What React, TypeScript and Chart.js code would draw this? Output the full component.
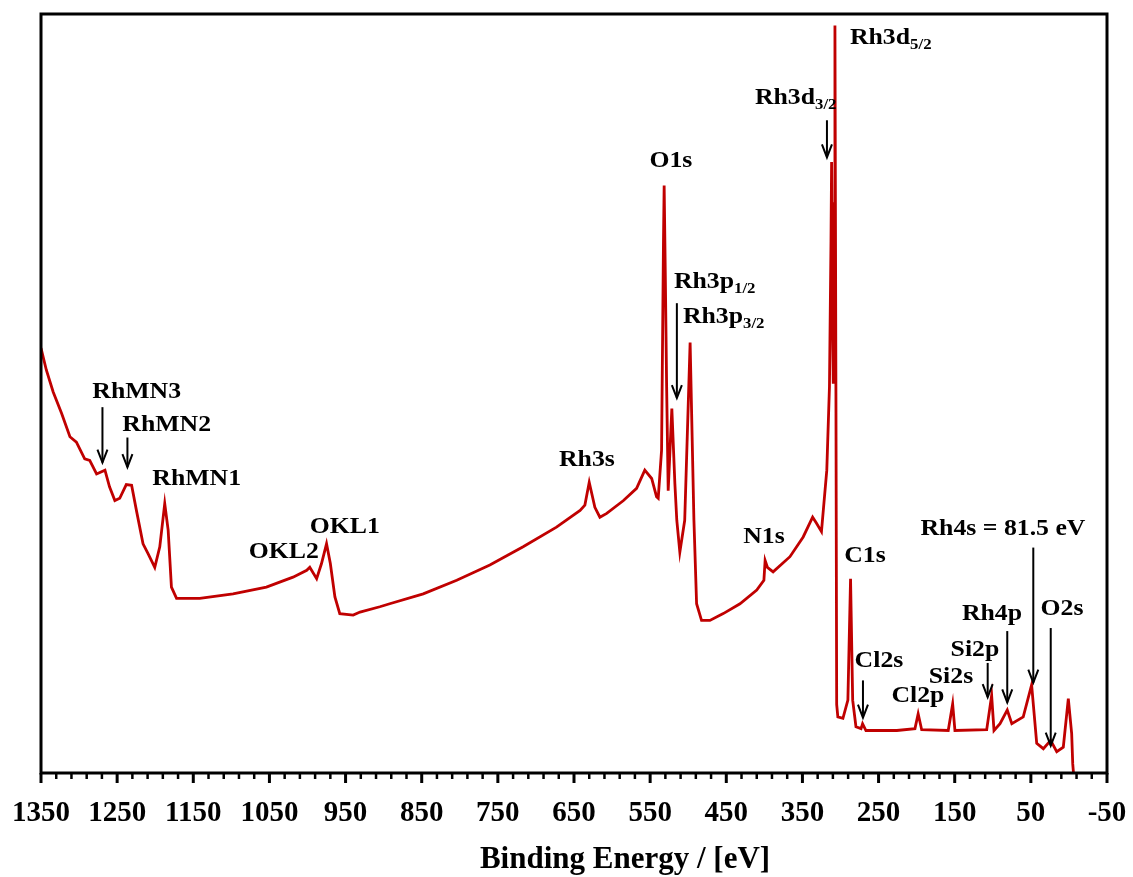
import React, { useEffect, useRef } from "react";
import { Chart, registerables } from "chart.js";

Chart.register(...registerables);

// Binding energy (eV) and intensity (arbitrary units, 0-100)
const bindingEnergy = [
  1350, 1343, 1334, 1323, 1312, 1303.5, 1292.6, 1286, 1277, 1266, 1260, 1253, 1246.6, 1238, 1231,
  1224.7, 1216, 1209.4, 1200.6, 1194, 1187.5, 1183, 1178.7, 1172, 1141.5, 1097.8, 1054, 1019, 1001,
  997, 988, 981.6, 975, 970, 964, 957.6, 940, 931, 905, 892, 848, 804, 760.5, 716.8, 673, 642,
  635.7, 630, 622.6, 616, 607, 585, 567.8, 557, 548, 541.6, 539.4, 535, 532.5, 531.6, 530, 528.4,
  526.3, 521.5, 517.5, 515, 511, 504.6, 497.5, 492.5, 489, 482.5, 471.5, 454, 432, 410, 400.6,
  399, 396, 388.5, 366.4, 349, 336.6, 331.5, 325, 318, 314.5, 312.5, 311.7, 310.5, 309.5, 308.5,
  307.3, 306, 305, 303.5, 296.8, 290.3, 286.8, 284, 279.7, 273, 271, 266.6, 226, 202.2, 198,
  193.4, 158.5, 152.7, 149.7, 108, 101.5, 98.4, 90.5, 81, 75, 60, 49, 42.3, 33.6, 24, 16, 7.4,
  0.8, -3.6, -5, -6,
];
const intensity = [
  56.0, 53.1, 50.2, 47.4, 44.3, 43.6, 41.4, 41.2, 39.4, 39.9, 37.7, 35.9, 36.2, 38.0, 37.9,
  34.6, 30.2, 28.9, 27.1, 29.8, 35.5, 32.0, 24.5, 23.0, 23.0, 23.6, 24.5, 25.8, 26.7,
  27.1, 25.6, 27.6, 30.2, 27.6, 23.2, 21.0, 20.8, 21.2, 21.9, 22.3, 23.6, 25.4, 27.4, 29.8, 32.4, 34.6,
  35.3, 38.3, 35.0, 33.7, 34.2, 35.9, 37.5, 39.9, 38.8, 36.4, 36.2, 42.5, 70, 77.4, 65, 51.3,
  37.2, 48.0, 38.1, 33.3, 29.1, 33.3, 56.7, 33.3, 22.3, 20.1, 20.1, 21.0, 22.3, 24.1, 25.4,
  28.0, 27.1, 26.5, 28.5, 31.1, 33.7, 32.9, 31.8, 39.9, 50.9, 70, 80.5, 60, 51.3, 75,
  98.5, 50, 9, 7.4, 7.2, 9.6, 25.6, 9.6, 6.1, 5.85, 6.5, 5.6, 5.6, 5.85, 7.8,
  5.7, 5.6, 9.1, 5.6, 5.7, 10.2, 5.6, 6.5, 8.3, 6.5, 7.4, 11.6, 3.9, 3.2, 4.3, 2.8, 3.4,
  9.8, 5.2, 1.2, 0,
];

const xTickValues = [1350, 1250, 1150, 1050, 950, 850, 750, 650, 550, 450, 350, 250, 150, 50, -50];
const minorTickStep = 20;
const xMin = -50;
const xMax = 1350;
const xTitle = "Binding Energy / [eV]";
const xTitleCentre = 583; // binding energy under which the axis title is centred

// Peak labels: [text, subscript, binding energy, intensity, align]
const peakLabels: [string, string, number, number, string][] = [
  ["RhMN3", "", 1224.3, 49.4, "center"],
  ["RhMN2", "", 1184.9, 45.0, "center"],
  ["RhMN1", "", 1145.5, 38.0, "center"],
  ["OKL2", "", 1031.2, 28.3, "center"],
  ["OKL1", "", 951.0, 31.6, "center"],
  ["Rh3s", "", 633.1, 40.4, "center"],
  ["O1s", "", 522.8, 79.8, "center"],
  ["Rh3p", "1/2", 518.8, 63.9, "left"],
  ["Rh3p", "3/2", 507.0, 59.3, "left"],
  ["Rh3d", "3/2", 412.4, 88.1, "left"],
  ["Rh3d", "5/2", 287.6, 96.1, "left"],
  ["N1s", "", 400.6, 30.3, "center"],
  ["C1s", "", 267.9, 27.8, "center"],
  ["Cl2s", "", 249.5, 14.0, "center"],
  ["Cl2p", "", 198.3, 9.3, "center"],
  ["Si2s", "", 154.9, 11.8, "center"],
  ["Si2p", "", 123.4, 15.4, "center"],
  ["Rh4p", "", 101.1, 20.1, "center"],
  ["Rh4s = 81.5 eV", "", 86.6, 31.3, "center"],
  ["O2s", "", 9.1, 20.8, "center"],
];

// Arrows: [binding energy, top intensity, tip intensity]
const peakArrows: [number, number, number][] = [
  [1269.3, 48.2, 40.9],
  [1236.5, 44.2, 40.3],
  [514.9, 61.9, 49.4],
  [317.8, 86.0, 81.1],
  [270.5, 12.2, 7.3],
  [106.7, 14.5, 10.0],
  [81.0, 18.7, 9.3],
  [46.8, 29.7, 11.9],
  [23.9, 19.1, 3.6],
];

const SERIF = "'Liberation Serif', 'Times New Roman', serif";
const LABEL_SIZE = 23;
const LABEL_STRETCH = 1.12;

const framePlugin = {
  id: "frameAndNotes",
  afterDraw(chart: any) {
    const { ctx, chartArea: a, scales } = chart;
    const x = scales.x;
    const y = scales.y;
    ctx.save();
    // frame
    ctx.strokeStyle = "#000";
    ctx.lineWidth = 3;
    ctx.strokeRect(a.left, a.top, a.right - a.left, a.bottom - a.top);
    // ticks
    for (let v = xMin; v <= xMax + 0.001; v += minorTickStep) {
      const px = x.getPixelForValue(v);
      const major = xTickValues.includes(v);
      ctx.lineWidth = major ? 3 : 2.5;
      ctx.beginPath();
      ctx.moveTo(px, a.bottom);
      ctx.lineTo(px, a.bottom + (major ? 10 : 6));
      ctx.stroke();
    }
    // axis title (sits right of centre in the original)
    ctx.fillStyle = "#000";
    ctx.font = `bold 31px ${SERIF}`;
    ctx.textAlign = "center";
    ctx.textBaseline = "alphabetic";
    ctx.fillText(xTitle, x.getPixelForValue(xTitleCentre), chart.height - 9);
    // arrows
    ctx.lineWidth = 2;
    ctx.strokeStyle = "#000";
    for (const [be, i1, i2] of peakArrows) {
      const px = x.getPixelForValue(be);
      const y1 = y.getPixelForValue(i1);
      const y2 = y.getPixelForValue(i2);
      ctx.beginPath();
      ctx.moveTo(px, y1);
      ctx.lineTo(px, y2);
      ctx.stroke();
      ctx.beginPath();
      ctx.moveTo(px - 5, y2 - 13);
      ctx.lineTo(px, y2);
      ctx.lineTo(px + 5, y2 - 13);
      ctx.stroke();
    }
    // labels
    for (const [text, sub, be, inten, align] of peakLabels) {
      const px = x.getPixelForValue(be);
      const py = y.getPixelForValue(inten);
      ctx.save();
      ctx.translate(px, py);
      ctx.scale(LABEL_STRETCH, 1);
      ctx.font = `bold ${LABEL_SIZE}px ${SERIF}`;
      ctx.textAlign = align as CanvasTextAlign;
      ctx.fillText(text, 0, 0);
      if (sub) {
        const w = ctx.measureText(text).width;
        ctx.font = `bold ${Math.round(LABEL_SIZE * 0.65)}px ${SERIF}`;
        ctx.textAlign = "left";
        ctx.fillText(sub, w, 5);
      }
      ctx.restore();
    }
    ctx.restore();
  },
};

export default function App() {
  const canvasRef = useRef<HTMLCanvasElement | null>(null);

  useEffect(() => {
    if (!canvasRef.current) return;
    const points = bindingEnergy.map((b, i) => ({ x: b, y: intensity[i] }));
    const chart = new Chart(canvasRef.current, {
      type: "line",
      data: {
        datasets: [
          {
            data: points,
            borderColor: "#C00000",
            borderWidth: 2.8,
            pointRadius: 0,
            tension: 0,
            fill: false,
          },
        ],
      },
      options: {
        responsive: false,
        maintainAspectRatio: false,
        animation: false,
        layout: { padding: { left: 41, right: 26, top: 14, bottom: 0 } },
        plugins: { legend: { display: false }, tooltip: { enabled: false } },
        scales: {
          x: {
            type: "linear",
            reverse: true,
            min: xMin,
            max: xMax,
            grid: { display: false },
            border: { display: false },
            afterBuildTicks: (s: any) => {
              s.ticks = xTickValues.map((v) => ({ value: v }));
            },
            afterFit: (s: any) => {
              s.height = 104;
              s.paddingLeft = 0;
              s.paddingRight = 0;
            },
            ticks: {
              autoSkip: false,
              maxRotation: 0,
              minRotation: 0,
              padding: 15,
              color: "#000",
              font: { family: SERIF, size: 29, weight: "bold" },
              callback: (v: any) => String(v),
            },
            title: { display: false },
          },
          y: { display: false, min: 0, max: 100 },
        },
      },
      plugins: [framePlugin],
    });
    return () => chart.destroy();
  }, []);

  return (
    <div style={{ position: "absolute", left: 0, top: 0, width: 1133, height: 877, background: "#fff" }}>
      <canvas ref={canvasRef} width={1133} height={877} style={{ display: "block" }} />
    </div>
  );
}
